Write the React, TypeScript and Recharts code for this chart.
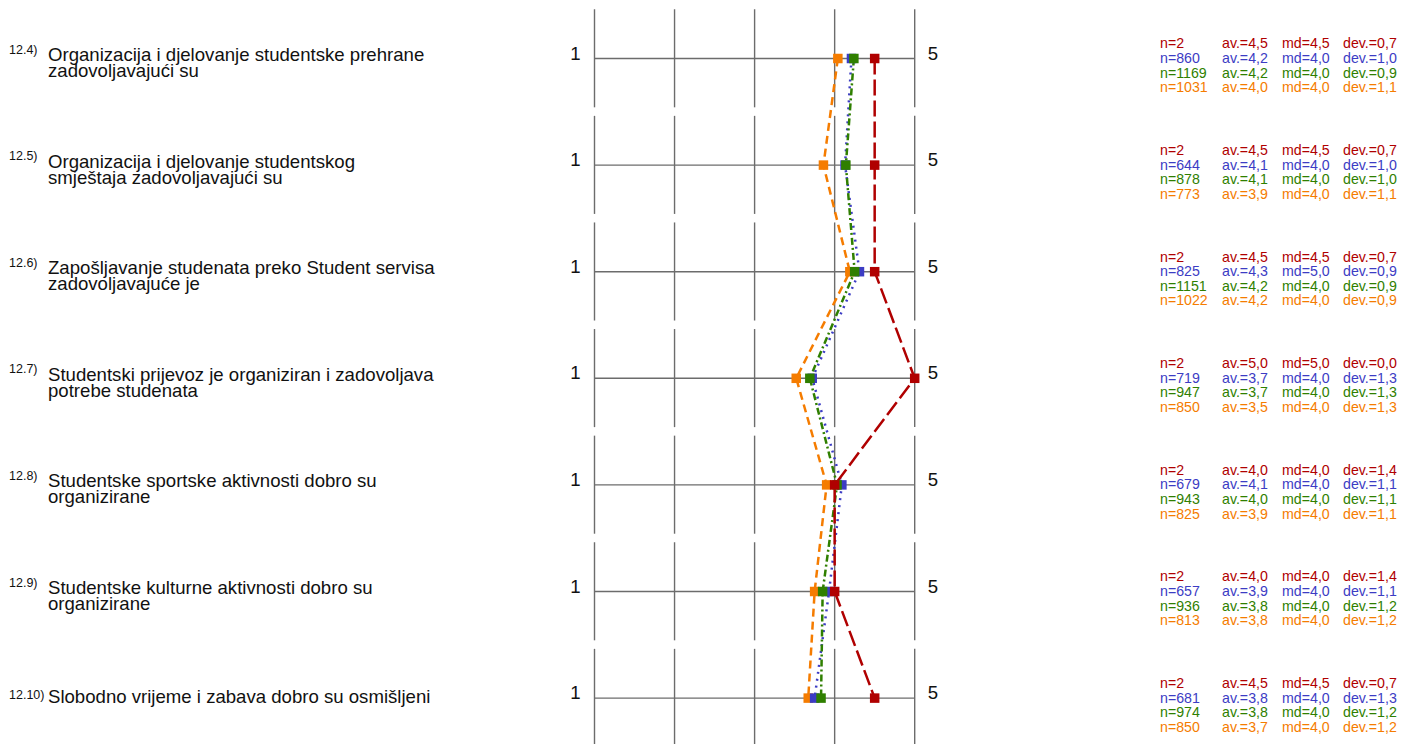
import { LineChart, Line, XAxis, YAxis, ReferenceLine } from "recharts"

const rows = [1, 2, 3, 4, 5, 6, 7]
const codes = ["12.4)", "12.5)", "12.6)", "12.7)", "12.8)", "12.9)", "12.10)"]
const questions = [
  ["Organizacija i djelovanje studentske prehrane", "zadovoljavajući su"],
  ["Organizacija i djelovanje studentskog", "smještaja zadovoljavajući su"],
  ["Zapošljavanje studenata preko Student servisa", "zadovoljavajuće je"],
  ["Studentski prijevoz je organiziran i zadovoljava", "potrebe studenata"],
  ["Studentske sportske aktivnosti dobro su", "organizirane"],
  ["Studentske kulturne aktivnosti dobro su", "organizirane"],
  ["Slobodno vrijeme i zabava dobro su osmišljeni"],
]
const scale = [1, 2, 3, 4, 5]

// plotted means
const redPos = [4.5, 4.5, 4.5, 5.0, 4.0, 4.0, 4.5]
const bluePos = [4.21, 4.13, 4.31, 3.72, 4.09, 3.93, 3.75]
const greenPos = [4.24, 4.14, 4.25, 3.69, 4.03, 3.85, 3.83]
const orangePos = [4.04, 3.86, 4.19, 3.52, 3.9, 3.75, 3.67]

// stats
const redN = [2, 2, 2, 2, 2, 2, 2]
const redAv = [4.5, 4.5, 4.5, 5.0, 4.0, 4.0, 4.5]
const redMd = [4.5, 4.5, 4.5, 5.0, 4.0, 4.0, 4.5]
const redDev = [0.7, 0.7, 0.7, 0.0, 1.4, 1.4, 0.7]
const blueN = [860, 644, 825, 719, 679, 657, 681]
const blueAv = [4.2, 4.1, 4.3, 3.7, 4.1, 3.9, 3.8]
const blueMd = [4.0, 4.0, 5.0, 4.0, 4.0, 4.0, 4.0]
const blueDev = [1.0, 1.0, 0.9, 1.3, 1.1, 1.1, 1.3]
const greenN = [1169, 878, 1151, 947, 943, 936, 974]
const greenAv = [4.2, 4.1, 4.2, 3.7, 4.0, 3.8, 3.8]
const greenMd = [4.0, 4.0, 4.0, 4.0, 4.0, 4.0, 4.0]
const greenDev = [0.9, 1.0, 0.9, 1.3, 1.1, 1.2, 1.2]
const orangeN = [1031, 773, 1022, 850, 825, 813, 850]
const orangeAv = [4.0, 3.9, 4.2, 3.5, 3.9, 3.8, 3.7]
const orangeMd = [4.0, 4.0, 4.0, 4.0, 4.0, 4.0, 4.0]
const orangeDev = [1.1, 1.1, 0.9, 1.3, 1.1, 1.2, 1.2]

const series = [
  { key: "orange", color: "#f57c00", dash: "8 5", width: 2.5, pos: orangePos },
  { key: "blue", color: "#3c3cc4", dash: "2 5", width: 2.5, pos: bluePos },
  { key: "green", color: "#2f7f00", dash: "7 3 2 3", width: 2.5, pos: greenPos },
  { key: "red", color: "#b00000", dash: "16 5", width: 2.5, pos: redPos },
]

const stats = [
  { color: "#b00000", n: redN, av: redAv, md: redMd, dev: redDev },
  { color: "#3c3cc4", n: blueN, av: blueAv, md: blueMd, dev: blueDev },
  { color: "#2f7f00", n: greenN, av: greenAv, md: greenMd, dev: greenDev },
  { color: "#f57c00", n: orangeN, av: orangeAv, md: orangeMd, dev: orangeDev },
]

const data = rows.map((row, i) => {
  const d: Record<string, number> = { row }
  series.forEach((s) => (d[s.key] = s.pos[i]))
  return d
})

const font = "'Liberation Sans', Arial, sans-serif"
const fmt = (v: number) => v.toFixed(1).replace(".", ",")
const gridColor = "#6c6c6c"

function RowTick(props: any) {
  const { y, payload } = props
  const i = rows.indexOf(payload.value)
  if (i < 0) return null
  const lines = questions[i]
  const single = lines.length === 1
  return (
    <g fontFamily={font}>
      <text x={9} y={y + (single ? 1 : -5)} fontSize={12.5} fill="#111">
        {codes[i]}
      </text>
      {lines.map((t, k) => (
        <text key={k} x={48} y={y + (single ? 5 : 2.5) + k * 16} fontSize={18.6} fill="#111">
          {t}
        </text>
      ))}
      <text x={575.5} y={y + 1} fontSize={18.6} fill="#111" textAnchor="middle">
        1
      </text>
      <text x={933} y={y + 1} fontSize={18.6} fill="#111" textAnchor="middle">
        5
      </text>
      {stats.map((s, k) => {
        const ty = y - 10.1 + k * 14.6
        return (
          <g key={k} fill={s.color} fontSize={14.2}>
            <text x={1160} y={ty}>n={s.n[i]}</text>
            <text x={1222} y={ty}>av.={fmt(s.av[i])}</text>
            <text x={1282} y={ty}>md={fmt(s.md[i])}</text>
            <text x={1343} y={ty}>dev.={fmt(s.dev[i])}</text>
          </g>
        )
      })}
    </g>
  )
}

function squareDot(color: string) {
  return (p: any) => (
    <rect key={`d-${p.index}`} x={p.cx - 4.75} y={p.cy - 4.75} width={9.5} height={9.5} fill={color} />
  )
}

export default function App() {
  return (
    <div style={{ position: "absolute", left: 0, top: 0, width: 1404, height: 744, overflow: "hidden", background: "#fff" }}>
      <LineChart
        width={1404}
        height={756}
        data={data}
        layout="vertical"
        margin={{ top: 5.2, right: 489.3, bottom: 4.6, left: 0 }}
      >
        <XAxis type="number" dataKey="red" domain={[1, 5]} hide />
        <YAxis
          yAxisId="left"
          type="number"
          dataKey="row"
          domain={[0.5, 7.5]}
          ticks={rows}
          interval={0}
          width={594.5}
          axisLine={false}
          tickLine={false}
          tick={<RowTick />}
        />
        {rows.map((r) => (
          <ReferenceLine key={`h-${r}`} yAxisId="left" y={r} stroke={gridColor} strokeWidth={1.4} />
        ))}
        {rows.map((r) =>
          scale.map((v) => (
            <ReferenceLine
              key={`v-${r}-${v}`}
              yAxisId="left"
              segment={[
                { x: v, y: r - 0.462 },
                { x: v, y: r + 0.458 },
              ]}
              stroke={gridColor}
              strokeWidth={1.4}
            />
          ))
        )}
        {series.map((s) => (
          <Line
            key={s.key}
            yAxisId="left"
            dataKey={s.key}
            stroke={s.color}
            strokeWidth={s.width}
            strokeDasharray={s.dash}
            dot={squareDot(s.color)}
            activeDot={false}
            isAnimationActive={false}
          />
        ))}
      </LineChart>
    </div>
  )
}
